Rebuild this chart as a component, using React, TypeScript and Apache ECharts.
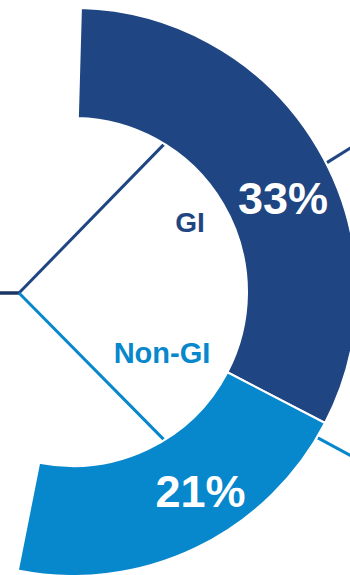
import React, { useEffect, useRef } from "react";
import * as echarts from "echarts";

const categories = ["GI", "Non-GI"];
const values = [33, 21];
const colors = ["#1F4682", "#0787CC"];
const labelShift = [
  [10, 24],
  [27, -10],
];

export default function App() {
  const ref = useRef<HTMLDivElement>(null);
  useEffect(() => {
    document.body.style.margin = "0";
    const chart = echarts.init(ref.current!, null, { renderer: "svg" });
    const cx = 73, cy = 292, r0 = 174, r1 = 284;
    const polar = (deg: number, r: number) => [
      cx + r * Math.cos((deg * Math.PI) / 180),
      cy - r * Math.sin((deg * Math.PI) / 180),
    ];
    const apex = [19, 293];
    const dEnd = polar(58.4, r0 - 1);
    const lEnd = polar(-58.4, r0 - 1);
    const rd0 = polar(27, r1 + 1), rd1 = polar(27.5, r1 + 34);
    const rl0 = polar(-30.8, r1 + 1), rl1 = polar(-30.5, r1 + 40);
    const font = "'Liberation Sans', Arial, sans-serif";
    chart.setOption({
      animation: false,
      series: [
        {
          type: "pie",
          center: [cx, cy],
          radius: [r0, r1],
          startAngle: 88.4,
          endAngle: -101.2,
          clockwise: true,
          silent: true,
          itemStyle: { borderColor: "#ffffff", borderWidth: 2 },
          label: {
            show: true,
            position: "inside",
            formatter: "{c}%",
            color: "#ffffff",
            fontSize: 45,
            fontWeight: "bold",
            fontFamily: font,
          },
          labelLine: { show: false },
          labelLayout: (p: any) => ({
            dx: labelShift[p.dataIndex][0],
            dy: labelShift[p.dataIndex][1],
          }),
          data: categories.map((name, i) => ({
            name,
            value: values[i],
            itemStyle: { color: colors[i] },
          })),
        },
      ],
      graphic: [
        {
          type: "line",
          shape: { x1: 0, y1: apex[1], x2: apex[0] + 1, y2: apex[1] },
          style: { stroke: "#1B3564", lineWidth: 3.5 },
        },
        {
          type: "line",
          shape: { x1: apex[0], y1: apex[1], x2: dEnd[0], y2: dEnd[1] },
          style: { stroke: colors[0], lineWidth: 3 },
        },
        {
          type: "line",
          shape: { x1: apex[0], y1: apex[1], x2: lEnd[0], y2: lEnd[1] },
          style: { stroke: colors[1], lineWidth: 3 },
        },
        {
          type: "line",
          shape: { x1: rd0[0], y1: rd0[1], x2: rd1[0], y2: rd1[1] },
          style: { stroke: colors[0], lineWidth: 3 },
        },
        {
          type: "line",
          shape: { x1: rl0[0], y1: rl0[1], x2: rl1[0], y2: rl1[1] },
          style: { stroke: colors[1], lineWidth: 3 },
        },
        {
          type: "text",
          x: 190,
          y: 222,
          style: {
            text: categories[0],
            fill: colors[0],
            font: `bold 28px ${font}`,
            align: "center",
            verticalAlign: "middle",
          },
        },
        {
          type: "text",
          x: 162,
          y: 353,
          style: {
            text: categories[1],
            fill: colors[1],
            font: `bold 29px ${font}`,
            align: "center",
            verticalAlign: "middle",
          },
        },
      ],
    });
    return () => chart.dispose();
  }, []);
  return <div ref={ref} style={{ width: 350, height: 575 }} />;
}
